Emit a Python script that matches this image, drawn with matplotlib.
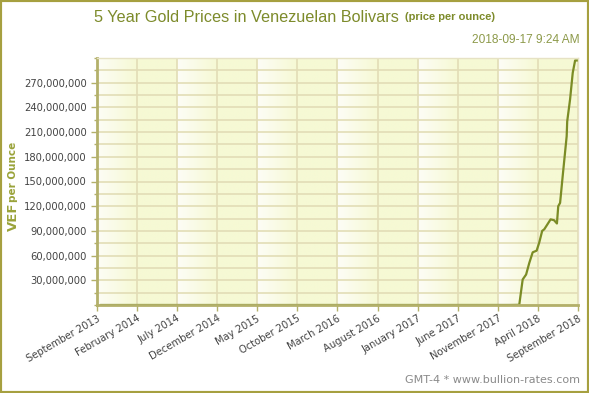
import numpy as np
import pandas as pd
import matplotlib
matplotlib.use("Agg")
import matplotlib.pyplot as plt
import matplotlib.dates as mdates
from matplotlib.patches import Rectangle
from matplotlib.ticker import FuncFormatter, MultipleLocator

# ----------------------------
# Data
# ----------------------------
dates = pd.to_datetime([
    "2013-09-17", "2014-03-01", "2014-09-01", "2015-03-01", "2015-09-01",
    "2016-03-01", "2016-09-01", "2017-03-01", "2017-09-01", "2017-12-15",
    "2018-01-21", "2018-02-03", "2018-02-16", "2018-02-28", "2018-03-13",
    "2018-03-28", "2018-04-07", "2018-04-18", "2018-04-26", "2018-05-08",
    "2018-05-20", "2018-06-02", "2018-06-13", "2018-06-18", "2018-06-25",
    "2018-07-05", "2018-07-15", "2018-07-20", "2018-07-22", "2018-08-02",
    "2018-08-12", "2018-08-21", "2018-08-30",
])
prices = [
    8000, 8100, 8300, 9000, 9500,
    12000, 15000, 18000, 25000, 40000,
    200000, 31e6, 37e6, 51e6, 64e6,
    66e6, 76e6, 90e6, 92e6, 98e6,
    104e6, 103e6, 99e6, 120e6, 124e6,
    157e6, 189e6, 205e6, 223e6, 250e6,
    282e6, 297e6, 297e6,
]

tick_months = pd.date_range("2013-09-01", "2018-09-01", freq="5MS")
tick_labels = [d.strftime("%B %Y") for d in tick_months]
y_ticks = np.arange(30e6, 271e6, 30e6)

olive = "#7b8c25"
title_col = "#7d8b2b"
grid_col = "#e2ddb6"
yellow = np.array([246, 249, 212]) / 255
white = np.array([253, 253, 246]) / 255

# ----------------------------
# Figure
# ----------------------------
fig = plt.figure(figsize=(5.89, 3.93), dpi=100)
ax = fig.add_axes([97 / 589, 88 / 393, 481 / 589, 247 / 393])

x0 = mdates.date2num(tick_months[0])
x1 = mdates.date2num(tick_months[-1])

# background: alternate columns with white->yellow gradient
n = 600
img = np.tile(yellow, (1, n, 1))
ncol = len(tick_months) - 1
for c in range(0, ncol, 2):
    a = int(c * n / ncol)
    b = int((c + 1) * n / ncol)
    t = np.linspace(0, 1, b - a)[:, None]
    img[0, a:b] = white * (1 - t) + yellow * t
ax.imshow(img, extent=[x0, x1, 0, 300e6], aspect="auto", zorder=0,
          interpolation="bilinear")

ax.plot(dates, prices, color=olive, linewidth=1.6, zorder=2.2)

ax.set_xlim(x0, x1)
ax.set_ylim(0, 300e6)

ax.set_xticks(tick_months)
ax.set_xticklabels(tick_labels, rotation=30, ha="right", rotation_mode="anchor",
                   fontsize=7.2, color="#444444")
ax.set_yticks(y_ticks)
ax.yaxis.set_minor_locator(MultipleLocator(15e6))
ax.yaxis.set_major_formatter(FuncFormatter(lambda v, p: f"{int(v):,}"))
ax.tick_params(axis="y", labelsize=7.2, labelcolor="#444444", color="#b3b06a",
               length=4, width=1)
ax.tick_params(axis="y", which="minor", color="#b3b06a", length=2, width=1)
ax.tick_params(axis="x", color="#b3b06a", length=4, width=1, pad=2)

ax.grid(True, which="both", color=grid_col, linewidth=1.2, zorder=1)
ax.set_axisbelow(True)

for s in ["left", "bottom"]:
    ax.spines[s].set_color("#b3b06a")
    ax.spines[s].set_linewidth(2)
for s in ["top", "right"]:
    ax.spines[s].set_color("#e6e2c4")
    ax.spines[s].set_linewidth(1)

# ----------------------------
# Texts
# ----------------------------
fig.text(94 / 589, 1 - 17 / 393, "5 Year Gold Prices in Venezuelan Bolivars",
         fontsize=11.7, color=title_col, va="center", ha="left",
         family="Liberation Sans")
fig.text(405 / 589, 1 - 17 / 393, "(price per ounce)", fontsize=8,
         color=title_col, va="center", ha="left", fontweight="bold",
         family="Liberation Sans")
fig.text(580 / 589, 1 - 40 / 393, "2018-09-17 9:24 AM", fontsize=8.6,
         color="#8d9a4a", va="center", ha="right", family="Liberation Sans")
fig.text(13 / 589, 1 - 217 / 393, "VEF", rotation=90, fontsize=9.5,
         fontweight="bold", color="#9aa33a", va="center", ha="center")
fig.text(13 / 589, 1 - 172 / 393, "per Ounce", rotation=90, fontsize=7.5,
         fontweight="bold", color="#9aa33a", va="center", ha="center")
fig.text(580 / 589, 1 - 380 / 393, "GMT-4 * www.bullion-rates.com", fontsize=8,
         color="#8a8a8a", va="center", ha="right")

fig.patches.append(Rectangle((0, 0), 1, 1, transform=fig.transFigure,
                             fill=False, edgecolor="#a6a040", linewidth=3))

fig.savefig("out.png", dpi=100)
